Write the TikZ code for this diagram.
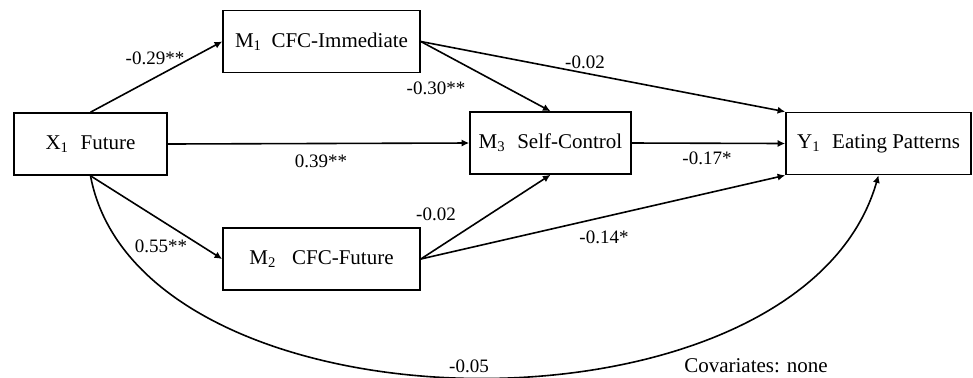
\documentclass[tikz,border=0pt]{standalone}
\usepackage{fontspec}
\setmainfont{Liberation Serif}
\usetikzlibrary{arrows.meta}

\begin{document}
\begin{tikzpicture}[
  x=0.5pt, y=-0.5pt,
  box/.style={draw, line width=0.8pt, minimum height=31pt, inner sep=2pt, font=\fontsize{10.5}{12}\selectfont},
  coef/.style={font=\fontsize{9.5}{11}\selectfont, inner sep=1pt},
  >={Latex[length=3.8pt,width=3.6pt]},
  every path/.style={line width=0.8pt}
]
\useasboundingbox (0,0) rectangle (973,377);

\node[box, minimum width=76.5pt] (x1) at (90.5,144) {X\textsubscript{1}\hspace{0.55em}Future};
\node[box, minimum width=98.5pt] (m1) at (321.5,41.5) {M\textsubscript{1}\hspace{0.45em}CFC-Immediate};
\node[box, minimum width=98.5pt] (m2) at (321.5,259) {M\textsubscript{2}\hspace{0.75em}CFC-Future};
\node[box, minimum width=80.5pt] (m3) at (550.5,143) {M\textsubscript{3}\hspace{0.55em}Self-Control};
\node[box, minimum width=92.5pt] (y1) at (878.5,143.5) {Y\textsubscript{1}\hspace{0.55em}Eating Patterns};

\draw[->] (x1.north) -- (m1.west);
\draw[->] (x1.south) -- (m2.west);
\draw[->] (x1.east) -- (m3.west);
\draw[->] (m1.east) -- (m3.north);
\draw[->] (m1.east) -- (y1.north west);
\draw[->] (m2.east) -- (m3.south);
\draw[->] (m2.east) -- (y1.south west);
\draw[->] (m3.east) -- (y1.west);
\draw[->] (x1.south) .. controls (140,440) and (800,450) .. (y1.south);

\node[coef] (c-xm1) at (155,58) {-0.29**};
\node[coef] (c-m1m3) at (436,88) {-0.30**};
\node[coef] (c-m1y) at (585,62) {-0.02};
\node[coef] (c-xm3) at (321,161) {0.39**};
\node[coef] (c-m3y) at (707,158) {-0.17*};
\node[coef] (c-xm2) at (161,246) {0.55**};
\node[coef] (c-m2m3) at (436,214) {-0.02};
\node[coef] (c-m2y) at (604,237) {-0.14*};
\node[coef] (c-xy) at (469,366) {-0.05};
\node[font=\fontsize{10.5}{12}\selectfont, inner sep=1pt] (cov) at (756,366) {Covariates: none};
\end{tikzpicture}
\end{document}
